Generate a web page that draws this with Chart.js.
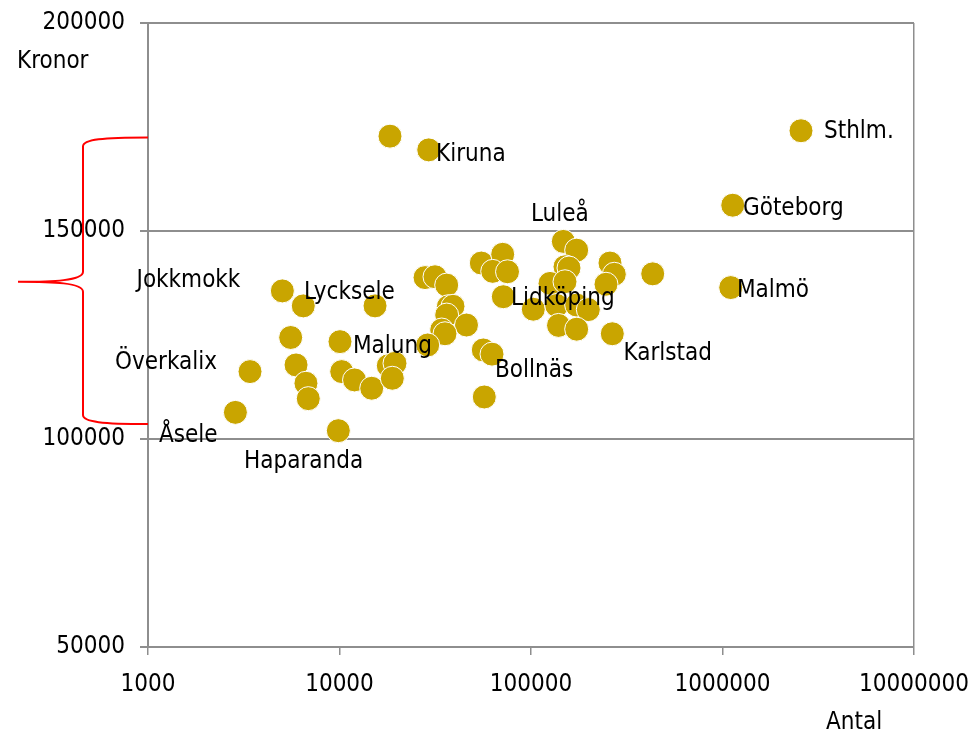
<!DOCTYPE html>
<html>
<head>
<meta charset="utf-8">
<script src="https://cdn.jsdelivr.net/npm/chart.js@4/dist/chart.umd.min.js"></script>
<style>
  html, body { margin: 0; padding: 0; background: #fff; }
  canvas { display: block; }
</style>
</head>
<body>
<canvas id="chart" width="970" height="734"></canvas>
<script>
// === Data ===
var antal = [
  2860, 3410, 5030, 6470, 5560, 5930, 6680, 6870, 9860, 10060,
  10270, 11980, 14730, 15330, 17980, 19490, 18870, 18350, 29240, 27970,
  31530, 36290, 37000, 39150, 36290, 46050, 34170, 35550, 28880, 55020,
  71150, 63100, 75410, 71680, 56350, 62570, 57030, 102800, 147500, 173200,
  150500, 157900, 125700, 150500, 136200, 173200, 199200, 139200, 173200, 265800,
  258500, 272300, 246400, 432100, 1131000, 1104000, 2570000
];
var kronor = [
  106400, 116200, 135600, 132000, 124400, 117800, 113400, 109700, 102000, 123400,
  116200, 114200, 112200, 132000, 117600, 118200, 114600, 172800, 169500, 138800,
  139000, 137000, 131800, 131900, 129800, 127400, 126200, 125300, 122600, 142300,
  144400, 140300, 140200, 134200, 121400, 120400, 110100, 131200, 147500, 145400,
  141400, 141100, 137400, 137800, 132100, 132200, 131100, 127300, 126400, 125300,
  142300, 139600, 137200, 139700, 156200, 136400, 174100
];
var xTicks = [1000, 10000, 100000, 1000000, 10000000];
var yTicks = [50000, 100000, 150000, 200000];

// place names, anchored (left edge, middle) in data units
var placeNames = ['Sthlm.', 'Göteborg', 'Malmö', 'Karlstad', 'Luleå', 'Kiruna', 'Lidköping',
  'Lycksele', 'Jokkmokk', 'Malung', 'Överkalix', 'Bollnäs', 'Åsele', 'Haparanda'];
var placeX = [3388000, 1279000, 1190000, 304100, 100000, 31910, 78630,
  6527, 871, 11760, 673, 64860, 1141, 3171];
var placeY = [174300, 155900, 136100, 120950, 154350, 168900, 134200,
  135600, 138500, 122600, 118900, 117000, 101250, 95100];

// red brace on the left: top, tip, bottom (kronor)
var braceTop = 172500, braceTip = 137800, braceBottom = 103600;

var FONT = '"DejaVu Sans Condensed", "DejaVu Sans", sans-serif';
var GRID = '#8e8e8e';

var points = antal.map(function(a, i) { return { x: a, y: kronor[i] }; });

// --- extra drawing: brace, names, axis titles ---
var decorations = {
  id: 'decorations',
  afterDatasetsDraw: function(chart) {
    var ctx = chart.ctx;
    var xs = chart.scales.x, ys = chart.scales.y;
    var area = chart.chartArea;

    // brace
    var xr = area.left, xv = area.left - 65, xt = area.left - 130;
    var yT = ys.getPixelForValue(braceTop);
    var yM = ys.getPixelForValue(braceTip);
    var yB = ys.getPixelForValue(braceBottom);
    ctx.save();
    ctx.strokeStyle = '#ff0000';
    ctx.lineWidth = 2;
    ctx.beginPath();
    ctx.moveTo(xr, yT);
    ctx.bezierCurveTo(xr - 45, yT, xv, yT + 2, xv, yT + 9);
    ctx.lineTo(xv, yM - 10);
    ctx.bezierCurveTo(xv, yM - 1, xt + 35, yM, xt, yM);
    ctx.bezierCurveTo(xt + 35, yM, xv, yM + 1, xv, yM + 10);
    ctx.lineTo(xv, yB - 9);
    ctx.bezierCurveTo(xv, yB - 2, xr - 45, yB, xr, yB);
    ctx.stroke();

    // names (small baseline nudge so the glyphs sit centred)
    ctx.fillStyle = '#000';
    ctx.font = '24px ' + FONT;
    ctx.textAlign = 'left';
    ctx.textBaseline = 'middle';
    placeNames.forEach(function(name, i) {
      ctx.fillText(name, xs.getPixelForValue(placeX[i]), ys.getPixelForValue(placeY[i]) + 2);
    });

    // axis titles
    ctx.fillText('Kronor', 17, 62);
    ctx.fillText('Antal', 826, 723);
    ctx.restore();
  }
};

new Chart(document.getElementById('chart').getContext('2d'), {
  type: 'scatter',
  data: {
    datasets: [{
      data: points,
      backgroundColor: '#c9a500',
      borderColor: '#ffffff',
      borderWidth: 1,
      pointRadius: 12,
      pointHoverRadius: 12
    }]
  },
  options: {
    responsive: false,
    animation: false,
    devicePixelRatio: 1,
    layout: { autoPadding: false, padding: { left: 0, top: 23, right: 56, bottom: 0 } },
    plugins: {
      legend: { display: false },
      tooltip: { enabled: false }
    },
    scales: {
      x: {
        type: 'logarithmic',
        min: 1000,
        max: 10000000,
        afterBuildTicks: function(scale) {
          scale.ticks = xTicks.map(function(v) { return { value: v }; });
        },
        afterFit: function(scale) {
          scale.height = 87;
          scale.paddingLeft = 0;
          scale.paddingRight = 0;
        },
        ticks: {
          color: '#000',
          padding: 15,
          maxRotation: 0,
          autoSkip: false,
          font: { family: FONT, size: 24 },
          callback: function(v) { return String(v); }
        },
        grid: {
          color: function(c) { return c.tick && c.tick.value === 10000000 ? GRID : 'rgba(0,0,0,0)'; },
          tickColor: GRID,
          lineWidth: 1.5,
          tickLength: 8
        },
        border: { color: GRID, width: 2 }
      },
      y: {
        min: 50000,
        max: 200000,
        afterBuildTicks: function(scale) {
          scale.ticks = yTicks.map(function(v) { return { value: v }; });
        },
        afterFit: function(scale) {
          scale.width = 148;
          scale.paddingTop = 0;
          scale.paddingBottom = 0;
        },
        ticks: {
          color: '#000',
          padding: 15,
          font: { family: FONT, size: 24 },
          callback: function(v) { return String(v); }
        },
        grid: {
          color: GRID,
          lineWidth: 2,
          tickLength: 8
        },
        border: { color: GRID, width: 2 }
      }
    }
  },
  plugins: [decorations]
});
</script>
</body>
</html>
